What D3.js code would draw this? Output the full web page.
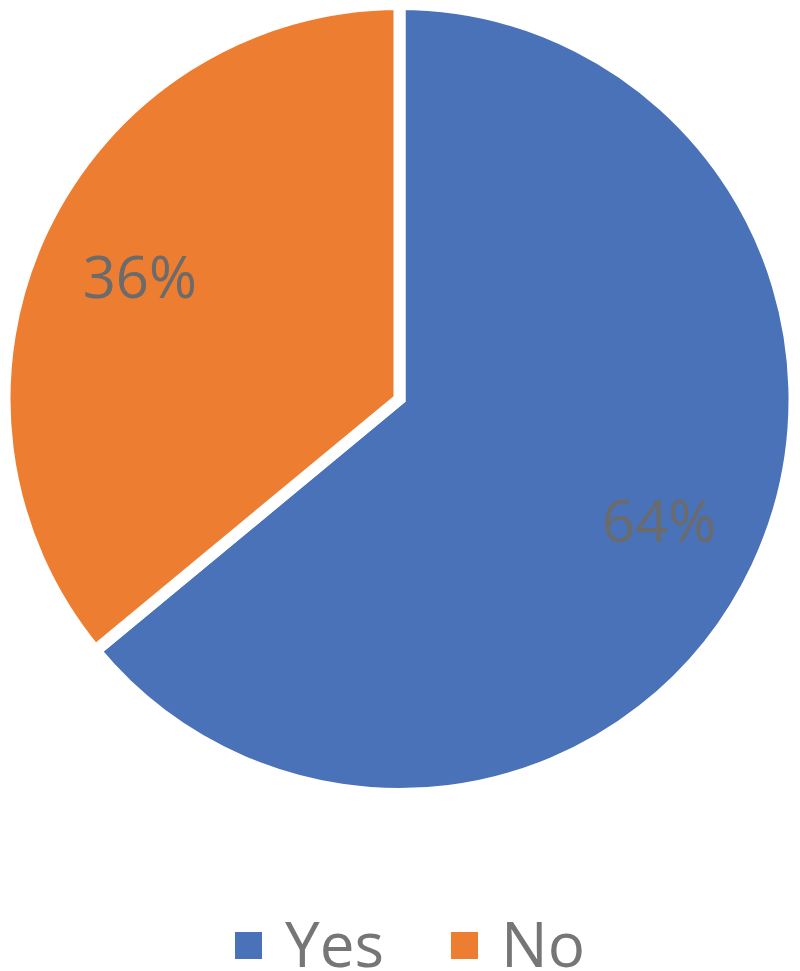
<!DOCTYPE html>
<html>
<head>
<meta charset="utf-8">
<script src="https://cdn.jsdelivr.net/npm/d3@7"></script>
<style>
  html, body { margin: 0; padding: 0; background: #fff; }
</style>
</head>
<body>
<div id="chart"></div>
<script>
// data
const categories = ['Yes', 'No']
const values = [64, 36]
const colors = ['#4a72b8', '#ed7d31']

const width = 800
const height = 971
const cx = 399.5
const cy = 399
const radius = 395 // outer edge incl. half of the white border
const labelRadius = 287

const svg = d3.select('#chart')
  .append('svg')
  .attr('width', width)
  .attr('height', height)

const color = d3.scaleOrdinal().domain(categories).range(colors)

const pie = d3.pie()
  .value(d => d.value)
  .sort(null)

const data = categories.map((c, i) => ({ name: c, value: values[i] }))
const arcs = pie(data)

const arcPath = d3.arc().innerRadius(0).outerRadius(radius)
const labelArc = d3.arc().innerRadius(labelRadius).outerRadius(labelRadius)

const g = svg.append('g')
  .attr('transform', `translate(${cx}, ${cy})`)

g.selectAll('path.slice')
  .data(arcs)
  .join('path')
  .attr('class', 'slice')
  .attr('d', arcPath)
  .attr('fill', d => color(d.data.name))
  .attr('stroke', '#fff')
  .attr('stroke-width', 12)
  .attr('stroke-linejoin', 'miter')

const total = d3.sum(values)
g.selectAll('text.label')
  .data(arcs)
  .join('text')
  .attr('class', 'label')
  .attr('transform', d => `translate(${labelArc.centroid(d)})`)
  .attr('text-anchor', 'middle')
  .attr('dy', '0.36em')
  .attr('font-family', 'Open Sans, sans-serif')
  .attr('font-size', 58)
  .attr('fill', '#6b6b6b')
  .text(d => Math.round(d.data.value / total * 100) + '%')

// legend
const legendX = [235, 451]
const legend = svg.append('g').attr('class', 'legend')
const items = legend.selectAll('g')
  .data(categories)
  .join('g')
  .attr('transform', (d, i) => `translate(${legendX[i]}, 932)`)

items.append('rect')
  .attr('width', 27)
  .attr('height', 27)
  .attr('fill', d => color(d))

items.append('text')
  .attr('x', 50)
  .attr('y', 35)
  .attr('font-family', 'Open Sans, sans-serif')
  .attr('font-size', 62)
  .attr('fill', '#767676')
  .text(d => d)
</script>
</body>
</html>
